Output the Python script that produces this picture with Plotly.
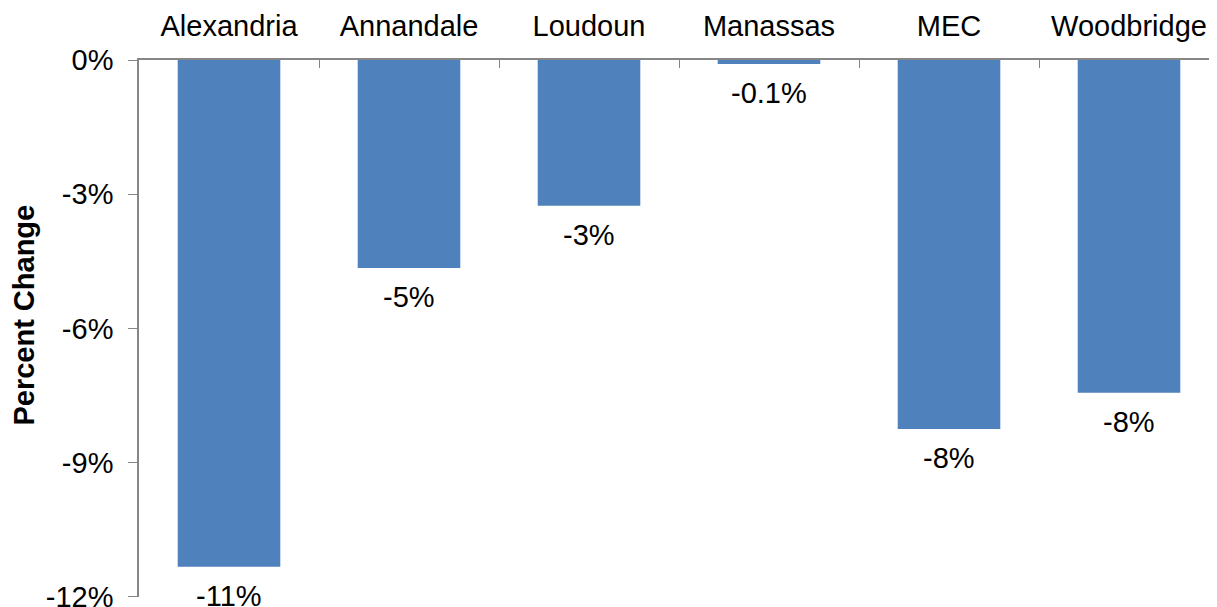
import plotly.graph_objects as go

# ----------------------------------
# DATA
# ----------------------------------

branches = ["Alexandria", "Annandale", "Loudoun", "Manassas", "MEC", "Woodbridge"]
pct_change = [-11.33, -4.65, -3.26, -0.09, -8.25, -7.44]
bar_labels = ["-11%", "-5%", "-3%", "-0.1%", "-8%", "-8%"]

y_ticks = [0, -3, -6, -9, -12]

FONT = "Liberation Sans, Arial, sans-serif"
FS = 29

# ----------------------------------
# CHART
# ----------------------------------

fig = go.Figure(
    go.Bar(
        x=branches,
        y=pct_change,
        marker=dict(color="#4F81BD", line=dict(width=0)),
        width=0.57,
    )
)

# value labels just below each bar end
for name, val, lab in zip(branches, pct_change, bar_labels):
    fig.add_annotation(
        x=name,
        y=val,
        text=lab,
        showarrow=False,
        yanchor="top",
        yshift=-11,
        font=dict(size=FS, color="#000000", family=FONT),
    )

# y axis title
fig.add_annotation(
    xref="paper",
    yref="paper",
    x=-0.106,
    y=0.525,
    text="<b>Percent Change</b>",
    textangle=-90,
    showarrow=False,
    xanchor="center",
    yanchor="middle",
    font=dict(size=FS, color="#000000", family=FONT),
)

fig.update_layout(
    width=1217,
    height=607,
    margin=dict(l=131, r=6, t=52, b=18),
    paper_bgcolor="white",
    plot_bgcolor="white",
    showlegend=False,
    font=dict(family=FONT, size=FS, color="#000000"),
)

fig.update_xaxes(
    side="top",
    automargin=False,
    showline=True,
    linecolor="#868686",
    linewidth=1.5,
    ticks="inside",
    tickson="boundaries",
    ticklen=8,
    tickcolor="#868686",
    showgrid=False,
    tickfont=dict(size=FS, color="#000000"),
    ticklabelstandoff=11,
)

fig.update_yaxes(
    range=[-12.005, 0],
    automargin=False,
    tickvals=y_ticks,
    ticktext=[f"{v}%" for v in y_ticks],
    showline=True,
    linecolor="#868686",
    linewidth=1.5,
    ticks="outside",
    ticklen=9,
    tickcolor="#868686",
    showgrid=False,
    zeroline=False,
    tickfont=dict(size=FS, color="#000000"),
    ticklabelstandoff=9,
)

fig.write_html("out.html")
